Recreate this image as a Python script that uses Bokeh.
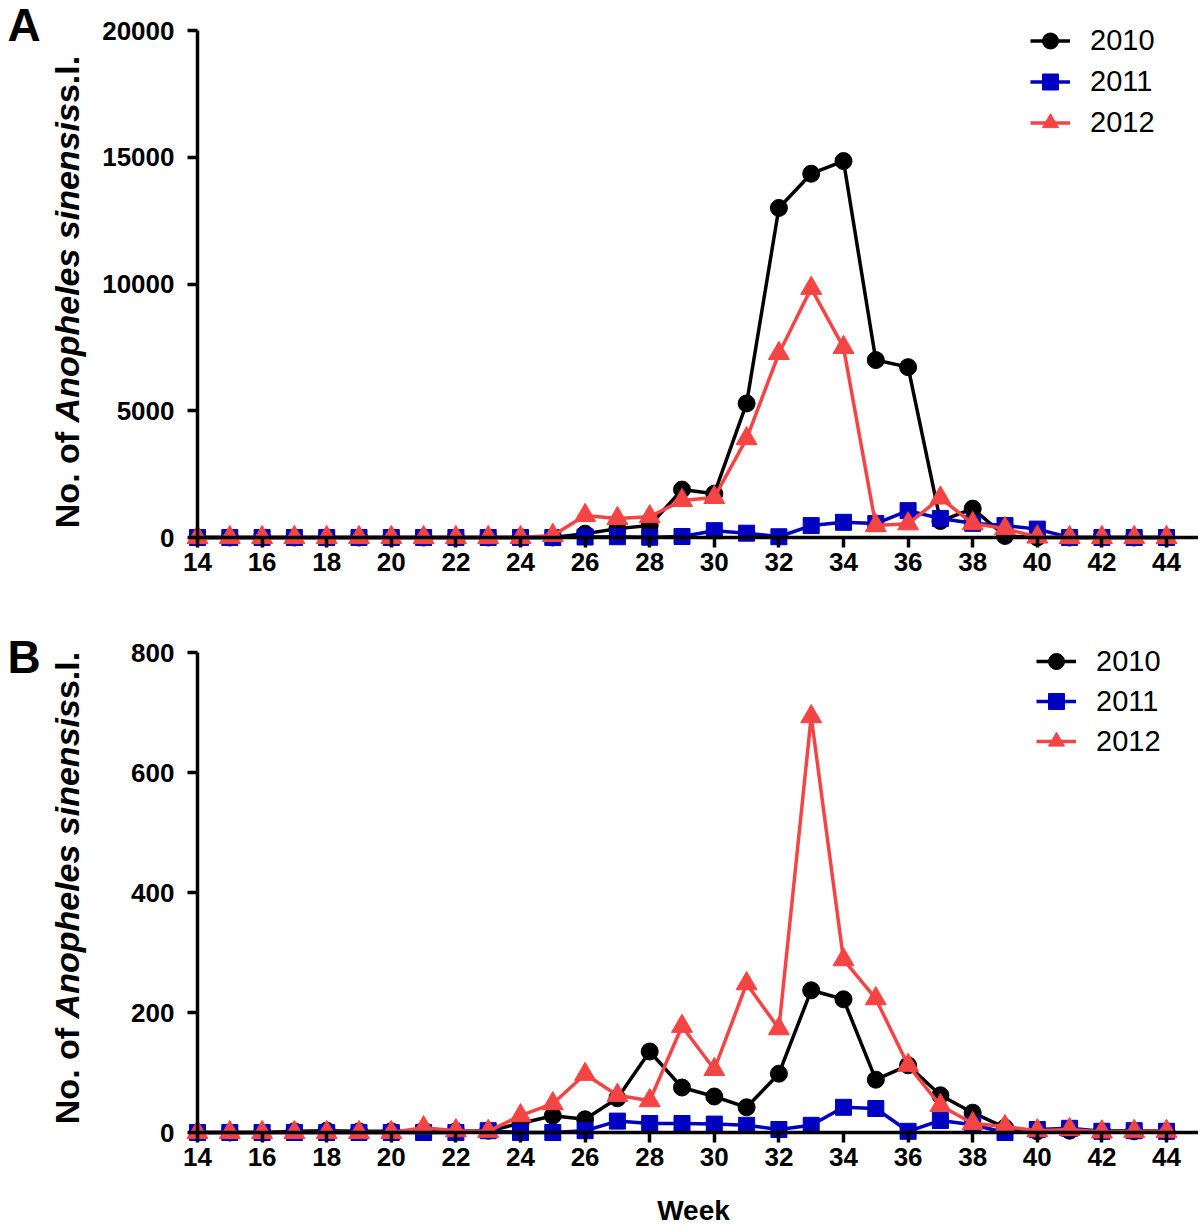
import math
from bokeh.plotting import figure
from bokeh.models import Range1d, Legend, LegendItem, Label, FixedTicker
from bokeh.layouts import column
from bokeh.embed import file_html
from bokeh.resources import INLINE

# ---------------- data ----------------
weeks = list(range(14, 45))
x_ticks = list(range(14, 45, 2))
series_labels = ["2010", "2011", "2012"]

# Panel A
a_2010 = [0, 0, 0, 0, 0, 0, 0, 0, 0, 0, 0, 0, 150, 350, 470, 1890, 1730, 5290,
          13000, 14350, 14850, 7000, 6720, 650, 1140, 60, 0, 0, 0, 0, 0]
a_2011 = [0, 0, 0, 0, 0, 0, 0, 0, 0, 0, 0, 0, 20, 30, 10, 40, 270, 170,
          30, 470, 600, 550, 1060, 750, 560, 470, 330, 0, 0, 0, 0]
a_2012 = [0, 0, 0, 0, 0, 0, 0, 0, 0, 0, 0, 80, 870, 750, 820, 1460, 1580, 3900,
          7260, 9830, 7500, 470, 540, 1560, 550, 350, 20, 0, 0, 0, 0]
a_yticks = [0, 5000, 10000, 15000, 20000]

# Panel B
b_2010 = [0, 0, 0, 2, 3, 2, 2, 3, 2, 3, 15, 28, 22, 57, 135, 75, 60, 42,
          98, 237, 222, 88, 112, 62, 33, 8, 2, 3, 2, 2, 2]
b_2011 = [0, 0, 0, 0, 0, 0, 0, 0, 0, 3, 0, 0, 3, 19, 15, 15, 14, 12,
          5, 12, 42, 40, 2, 20, 13, 0, 5, 7, 2, 3, 2]
b_2012 = [0, 0, 0, 0, 0, 0, 0, 8, 3, 2, 28, 48, 97, 62, 53, 177, 105, 248,
          173, 693, 288, 223, 112, 45, 15, 10, 3, 5, 1, 2, 2]
b_yticks = [0, 200, 400, 600, 800]

colors = ["#000000", "#0000C0", "#F44444"]
markers = ["circle", "square", "triangle"]
msizes = [17, 16, 21]

FONT = "Liberation Sans"
W = 1198
# horizontal layout: week 14 sits at page x 197, 32.3 px per week
X_AT = 197
PPW = 32.3
X0 = 14 - X_AT / PPW
X1 = 14 + (W - X_AT) / PPW


def dx(px):
    return X0 + px / PPW


class Panel:
    def __init__(self, top, height, zero_py, upp):
        self.top, self.height, self.zero_py, self.upp = top, height, zero_py, upp

    def dy(self, py):
        return (self.zero_py - py) * self.upp

    @property
    def ystart(self):
        return self.dy(self.top + self.height)

    @property
    def yend(self):
        return self.dy(self.top)


def make_panel(geo, values, yticks):
    p = figure(width=W, height=geo.height, x_range=Range1d(X0, X1),
               y_range=Range1d(geo.ystart, geo.yend), output_backend="svg",
               toolbar_location=None, min_border=0)
    p.outline_line_color = None
    p.xgrid.visible = False
    p.ygrid.visible = False
    p.background_fill_color = "white"

    p.xaxis.fixed_location = 0
    p.xaxis.bounds = (14, X1)
    p.xaxis.ticker = FixedTicker(ticks=x_ticks, minor_ticks=[])
    p.yaxis.fixed_location = 14
    p.yaxis.bounds = (0, yticks[-1])
    p.yaxis.ticker = FixedTicker(ticks=yticks, minor_ticks=[])
    for ax in (p.xaxis, p.yaxis):
        ax.axis_line_width = 3.5
        ax.axis_line_color = "black"
        ax.major_tick_line_width = 3.5
        ax.major_tick_out = 10
        ax.major_tick_in = 0
        ax.minor_tick_out = 0
        ax.minor_tick_in = 0
        ax.major_label_text_font = FONT
        ax.major_label_text_font_style = "bold"
        ax.major_label_text_font_size = "26px"
        ax.major_label_text_color = "black"
    p.xaxis.major_label_standoff = 5
    p.yaxis.major_label_standoff = 13

    items = []
    for vals, c, m, s, lab in zip(values, colors, markers, msizes, series_labels):
        ln = p.line(weeks, vals, line_width=3.5, line_color=c)
        sc = p.scatter(weeks, vals, marker=m, size=s, fill_color=c, line_color=c)
        items.append(LegendItem(label=lab, renderers=[ln, sc]))
    return p, items


geoA = Panel(top=0, height=600, zero_py=537, upp=20000 / 507)
geoB = Panel(top=600, height=626, zero_py=1132, upp=800 / 480)

pA, itemsA = make_panel(geoA, [a_2010, a_2011, a_2012], a_yticks)
pB, itemsB = make_panel(geoB, [b_2010, b_2011, b_2012], b_yticks)

LEG_PAD = 5


def add_legend(p, geo, items, left_px, top_py, item_h):
    leg_h = 2 * LEG_PAD + 3 * item_h
    bottom_py = top_py + leg_h
    leg = Legend(items=items, location=(left_px, geo.top + geo.height - bottom_py),
                 glyph_width=40, glyph_height=item_h, label_height=item_h,
                 label_standoff=20, spacing=0, padding=LEG_PAD, margin=0,
                 border_line_color=None, background_fill_alpha=0, label_text_font=FONT,
                 label_text_font_size="29px", label_text_color="black")
    p.add_layout(leg)


add_legend(pA, geoA, itemsA, 1030, 10, 41)
add_legend(pB, geoB, itemsB, 1036, 631, 40)

# y-axis titles (mixed upright / italic)
YL_FS = 34
seg_text = ["No. of ", "Anopheles sinensis", "s.l."]
seg_style = ["bold", "bold italic", "bold"]
seg_len = [3111 * YL_FS / 1000, 9392 * YL_FS / 1000, 1390 * YL_FS / 1000]


def add_ylabel(p, geo, center_py):
    start = center_py + sum(seg_len) / 2
    for t, st, ln in zip(seg_text, seg_style, seg_len):
        p.add_layout(Label(x=dx(66), y=geo.dy(start), text=t, angle=math.pi / 2,
                           text_align="left", text_baseline="middle",
                           text_font=FONT, text_font_style=st,
                           text_font_size=f"{YL_FS}px", text_color="black"))
        start -= ln


add_ylabel(pA, geoA, 291.5)
add_ylabel(pB, geoB, 887.5)

# panel letters
pA.add_layout(Label(x=dx(7), y=geoA.dy(24), text="A", text_font=FONT, text_font_style="bold",
                    text_font_size="46px", text_align="left", text_baseline="middle",
                    text_color="black"))
pB.add_layout(Label(x=dx(7), y=geoB.dy(656), text="B", text_font=FONT, text_font_style="bold",
                    text_font_size="46px", text_align="left", text_baseline="middle",
                    text_color="black"))

# x-axis title
pB.add_layout(Label(x=dx(693), y=geoB.dy(1210), text="Week", text_font=FONT, text_font_style="bold",
                    text_font_size="28px", text_align="center", text_baseline="middle",
                    text_color="black"))

layout = column(pA, pB, spacing=0)
open("out.html", "w").write(file_html(layout, INLINE))
